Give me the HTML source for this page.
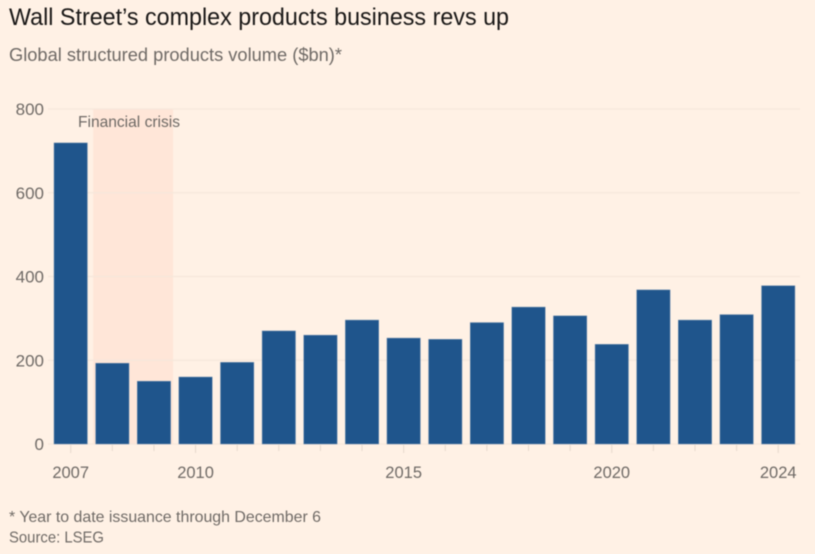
<!DOCTYPE html>
<html lang="en">
<head>
<meta charset="utf-8">
<title>Wall Street's complex products business revs up</title>
<style>
html,body{margin:0;padding:0;background:#fff1e5;}
body{width:815px;height:554px;overflow:hidden;}
svg{display:block;font-family:"Liberation Sans",sans-serif;filter:blur(0.4px);}
</style>
</head>
<body>
<svg id="chart" width="815" height="554" viewBox="0 0 815 554" xmlns="http://www.w3.org/2000/svg">
  <rect x="0" y="0" width="815" height="554" fill="#fff1e5"/>
  <text x="9" y="25" font-size="24.5" fill="#1a1817" textLength="500" lengthAdjust="spacingAndGlyphs">Wall Street’s complex products business revs up</text>
  <text x="9" y="61" font-size="18" fill="#6f6a66" textLength="333" lengthAdjust="spacingAndGlyphs">Global structured products volume ($bn)*</text>
  <g id="shade-layer"></g>
  <g id="grid-layer"></g>
  <g id="bar-layer"></g>
  <g id="x-layer"></g>
  <g id="y-layer"></g>
  <text x="78" y="127" font-size="16" fill="#6f6a66" textLength="102" lengthAdjust="spacingAndGlyphs">Financial crisis</text>
  <text x="9" y="522" font-size="16" fill="#6f6a66" textLength="312" lengthAdjust="spacingAndGlyphs">* Year to date issuance through December 6</text>
  <text x="9" y="542.5" font-size="16" fill="#6f6a66" textLength="95" lengthAdjust="spacingAndGlyphs">Source: LSEG</text>
</svg>
<script>
var years = [2007,2008,2009,2010,2011,2012,2013,2014,2015,2016,2017,2018,2019,2020,2021,2022,2023,2024];
var volumes = [719,193,150,160,195,270,260,296,253,250,290,327,306,238,368,296,309,378];
var yTicks = [0,200,400,600,800];
var xLabels = [2007,2010,2015,2020,2024];
var crisisStart = 2007.54;
var crisisEnd = 2009.46;

var NS = 'http://www.w3.org/2000/svg';
function xScale(year){ return 70.7 + (year - 2007) * 41.62; }
function yScale(v){ return 444 - v * (335 / 800); }
function make(tag, parent, attrs){
  var el = document.createElementNS(NS, tag);
  for (var k in attrs) el.setAttribute(k, attrs[k]);
  parent.appendChild(el);
  return el;
}
var shadeLayer = document.getElementById('shade-layer');
var gridLayer = document.getElementById('grid-layer');
var barLayer = document.getElementById('bar-layer');
var xLayer = document.getElementById('x-layer');
var yLayer = document.getElementById('y-layer');

var shade = make('rect', shadeLayer, {x:xScale(crisisStart), y:yScale(800), width:xScale(crisisEnd)-xScale(crisisStart), height:yScale(0)-yScale(800), fill:'#ffe6d8'});



yTicks.forEach(function(t){
  var line = make('line', gridLayer, {x1:48, x2:800, y1:yScale(t), y2:yScale(t), stroke:'#f6e7db', 'stroke-width':1.2});
  
  
  var label = make('text', yLayer, {x:44, y:yScale(t)+6, 'text-anchor':'end', 'font-size':17, fill:'#6f6a66'});
  label.textContent = t;
  
  
});

years.forEach(function(year, i){
  var top = yScale(volumes[i]);
  var bar = make('rect', barLayer, {x:xScale(year)-16.7, y:top, width:33.4, height:yScale(0)-top, fill:'#1f558c', stroke:'#6f8fb0', 'stroke-width':0.5});
  
  
  var major = xLabels.indexOf(year) >= 0;
  var tick = make('line', xLayer, {x1:xScale(year), x2:xScale(year), y1:yScale(0)+1, y2:yScale(0)+(major?9:7), stroke:'#e6d8cc', 'stroke-width':1});
  
  
});

xLabels.forEach(function(year){
  var label = make('text', xLayer, {x:xScale(year), y:478, 'text-anchor':'middle', 'font-size':16.5, fill:'#6f6a66'});
  label.textContent = year;
  
  
});
</script>
</body>
</html>
